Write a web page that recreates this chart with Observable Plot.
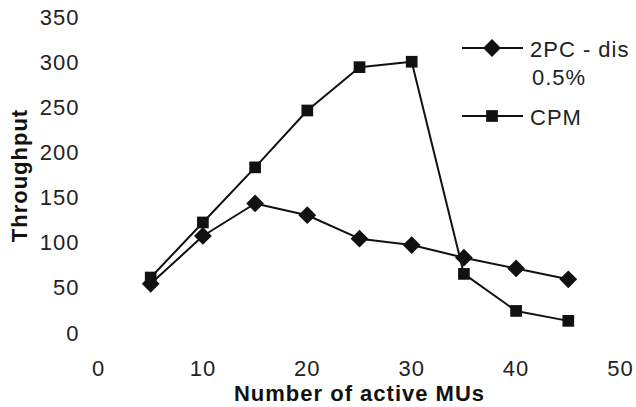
<!DOCTYPE html>
<html>
<head>
<meta charset="utf-8">
<script src="https://cdn.jsdelivr.net/npm/d3@7"></script>
<script src="https://cdn.jsdelivr.net/npm/@observablehq/plot@0.6"></script>
<style>
  html, body { margin: 0; padding: 0; background: white; }
</style>
</head>
<body>
<div id="chart"></div>
<script>
// Data
const mus = [5, 10, 15, 20, 25, 30, 35, 40, 45];
const twoPC = [55, 108, 144, 131, 105, 98, 84, 72, 60];
const cpm = [62, 123, 184, 247, 295, 301, 66, 25, 14];
const xTicks = [0, 10, 20, 30, 40, 50];
const yTicks = [0, 50, 100, 150, 200, 250, 300, 350];
const seriesNames = ["2PC - dis\n0.5%", "CPM"];

const rows = [];
mus.forEach((m, i) => {
  rows.push({mu: m, value: twoPC[i], series: seriesNames[0]});
  rows.push({mu: m, value: cpm[i], series: seriesNames[1]});
});
const rows2PC = rows.filter(d => d.series === seriesNames[0]);
const rowsCPM = rows.filter(d => d.series === seriesNames[1]);

const font = "'Liberation Sans', Arial, sans-serif";

const chart = Plot.plot({
  width: 636,
  height: 407,
  marginLeft: 98,
  marginRight: 16,
  marginTop: 17,
  marginBottom: 74,
  style: {fontFamily: font, fontSize: "22px", letterSpacing: "1px", color: "#222", background: "white"},
  x: {domain: [0, 50], ticks: xTicks, tickSize: 0, tickPadding: 27, label: null},
  y: {domain: [0, 350], ticks: yTicks, tickSize: 0, tickPadding: 19, label: null},
  marks: [
    Plot.line(rowsCPM, {x: "mu", y: "value", stroke: "#111", strokeWidth: 2}),
    Plot.line(rows2PC, {x: "mu", y: "value", stroke: "#111", strokeWidth: 2}),
    Plot.dot(rowsCPM, {x: "mu", y: "value", symbol: "square", r: 6.6, fill: "#111", stroke: "none"}),
    Plot.dot(rows2PC, {x: "mu", y: "value", symbol: "diamond2", r: 8, fill: "#111", stroke: "none"}),
    Plot.text(["Number of active MUs"], {frameAnchor: "bottom", dy: 60, textAnchor: "middle", lineAnchor: "middle", fontWeight: "bold", fontSize: 22, fill: "#111"}),
    Plot.text(["Throughput"], {frameAnchor: "left", dx: -79, rotate: -90, textAnchor: "middle", lineAnchor: "middle", fontWeight: "bold", fontSize: 22, fill: "#111"})
  ]
});

document.getElementById("chart").appendChild(chart);

// Legend
const svg = d3.select(chart);
const leg = svg.append("g").attr("font-family", font).attr("font-size", 22).attr("fill", "#222");
const items = [
  {name: seriesNames[0], y: 48, symbol: d3.symbolDiamond2, size: Math.PI * 8 * 8},
  {name: seriesNames[1], y: 116, symbol: d3.symbolSquare, size: Math.PI * 6.6 * 6.6}
];
items.forEach(it => {
  leg.append("line").attr("x1", 462).attr("x2", 523).attr("y1", it.y).attr("y2", it.y)
    .attr("stroke", "#111").attr("stroke-width", 2);
  leg.append("path").attr("d", d3.symbol(it.symbol, it.size)())
    .attr("transform", `translate(492,${it.y})`).attr("fill", "#111");
  const lines = it.name.split("\n");
  lines.forEach((t, k) => {
    leg.append("text").attr("x", 530 + (k > 0 ? 2 : 0)).attr("y", it.y + 1 + k * 28)
      .attr("dy", "0.35em").attr("text-anchor", "start").text(t);
  });
});
</script>
</body>
</html>
